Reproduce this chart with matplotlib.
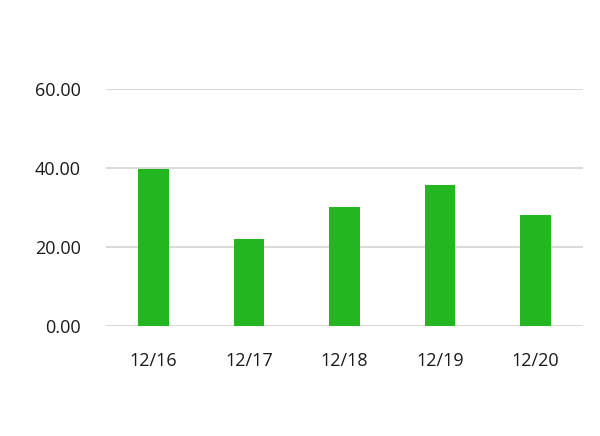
import matplotlib
matplotlib.use("Agg")
import matplotlib.pyplot as plt

categories = ["12/16", "12/17", "12/18", "12/19", "12/20"]
values = [39.7, 22.0, 30.0, 35.7, 28.1]
yticks = [0, 20, 40, 60]
ytick_labels = ["0.00", "20.00", "40.00", "60.00"]

plt.rcParams['font.family'] = ['Open Sans', 'DejaVu Sans']

fig = plt.figure(figsize=(6, 4.36), dpi=100)
ax = fig.add_axes([106/600, 1-325.7/436, (583-106)/600, (325.7-89)/436])

x = range(len(categories))
ax.bar(x, values, width=0.32, color="#23b620", zorder=3)
ax.set_xlim(-0.5, len(categories)-0.5)
ax.set_ylim(0, 60)
ax.set_yticks(yticks)
ax.set_yticklabels(ytick_labels)
ax.set_xticks(list(x))
ax.set_xticklabels(categories)
ax.yaxis.grid(True, color="#d9d9d9", linewidth=1.4, zorder=0)
ax.set_axisbelow(True)
for s in ax.spines.values():
    s.set_visible(False)
ax.tick_params(axis='both', length=0, labelsize=13, colors="#1a1a1a")
ax.tick_params(axis='y', pad=18)
ax.tick_params(axis='x', pad=19)
ax.axhline(0, color="#d9d9d9", linewidth=1.4, zorder=1)

fig.savefig("out.png", dpi=100)
